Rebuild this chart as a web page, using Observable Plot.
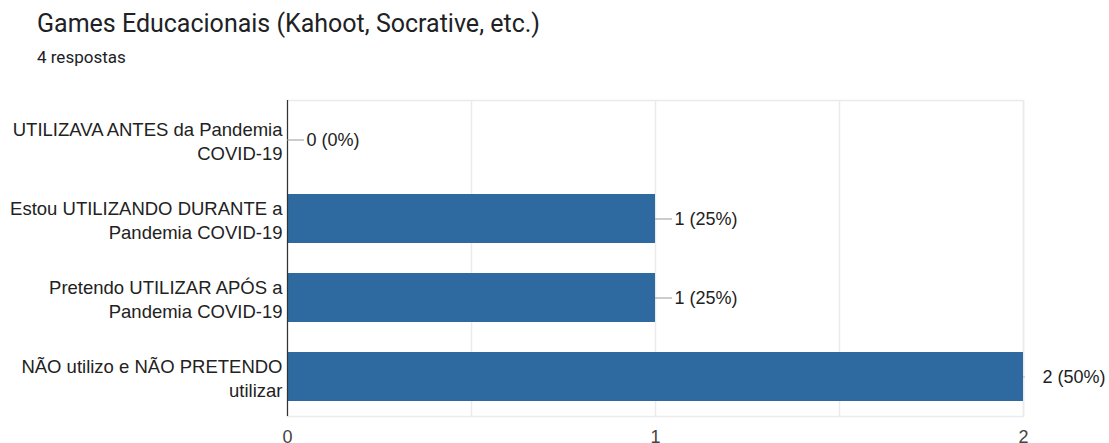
<!DOCTYPE html>
<html>
<head>
<meta charset="utf-8">
<script src="https://cdn.jsdelivr.net/npm/d3@7"></script>
<script src="https://cdn.jsdelivr.net/npm/@observablehq/plot@0.6"></script>
<style>
  html, body { margin: 0; padding: 0; background: #fff; width: 1109px; height: 443px; overflow: hidden; }
  #title { position: absolute; left: 37px; top: 10px; font-family: Roboto, sans-serif; font-size: 25px; line-height: 28px; color: #202124; white-space: nowrap; }
  #subtitle { position: absolute; left: 37px; top: 47px; font-family: Roboto, sans-serif; font-size: 17px; line-height: 20px; color: #202124; white-space: nowrap; }
  #chart { position: absolute; left: 0; top: 80px; }
</style>
</head>
<body>
<div id="title"></div>
<div id="subtitle"></div>
<div id="chart"></div>
<script>
const chartTitle = "Games Educacionais (Kahoot, Socrative, etc.)";
const totalResponses = 4;
const subtitleText = `${totalResponses} respostas`;
const categories = [
  "UTILIZAVA ANTES da Pandemia COVID-19",
  "Estou UTILIZANDO DURANTE a Pandemia COVID-19",
  "Pretendo UTILIZAR APÓS a Pandemia COVID-19",
  "NÃO utilizo e NÃO PRETENDO utilizar"
];
const tickLabels = [
  "UTILIZAVA ANTES da Pandemia\nCOVID-19",
  "Estou UTILIZANDO DURANTE a\nPandemia COVID-19",
  "Pretendo UTILIZAR APÓS a\nPandemia COVID-19",
  "NÃO utilizo e NÃO PRETENDO\nutilizar"
];
const counts = [0, 1, 1, 2];
const xTicks = [0, 1, 2];
const gridTicks = [0.5, 1, 1.5, 2];

document.getElementById("title").textContent = chartTitle;
document.getElementById("subtitle").textContent = subtitleText;

const data = categories.map((c, i) => ({
  category: c,
  count: counts[i],
  label: `${counts[i]} (${Math.round(counts[i] / totalResponses * 100)}%)`
}));
const maxCount = d3.max(counts);
const labelOf = new Map(categories.map((c, i) => [c, tickLabels[i]]));

const font = "'Liberation Sans', Arial, sans-serif";

const chart = Plot.plot({
  width: 1109,
  height: 363,
  marginTop: 20,
  marginBottom: 27,
  marginLeft: 287,
  marginRight: 86,
  style: { fontFamily: font, fontSize: "18px", background: "#fff" },
  x: { domain: [0, 2], axis: null, label: null },
  y: { domain: categories, paddingInner: 0.385, paddingOuter: 0.1925, axis: null, label: null },
  marks: [
    Plot.frame({ stroke: "#ebebeb", strokeWidth: 1.5 }),
    Plot.gridX({ ticks: gridTicks, stroke: "#ebebeb", strokeOpacity: 1, strokeWidth: 1.5 }),
    Plot.barX(data, { x: "count", y: "category", fill: "#2e69a0" }),
    Plot.ruleX([0], { stroke: "#333", strokeWidth: 1.2 }),
    Plot.ruleY(data.filter(d => d.count < maxCount), { y: "category", x1: "count", x2: "count", insetRight: -17, stroke: "#999" }),
    Plot.ruleY(data.filter(d => d.count === maxCount), { y: "category", x1: "count", x2: "count", insetRight: -2, stroke: "#bbb" }),
    Plot.text(data.filter(d => d.count < maxCount), { x: "count", y: "category", text: "label", dx: 19, textAnchor: "start", fill: "#222", fontSize: 18 }),
    Plot.text(data.filter(d => d.count === maxCount), { x: "count", y: "category", text: "label", dx: 19, textAnchor: "start", fill: "#222", fontSize: 18 }),
    Plot.axisY({ label: null, tickSize: 0, tickPadding: 5, fontSize: 18.5, fill: "#222", lineHeight: 1.33, tickFormat: c => labelOf.get(c) }),
    Plot.axisX({ label: null, ticks: xTicks, tickSize: 0, tickPadding: 14, fontSize: 18, fill: "#444", tickFormat: d3.format("d") })
  ]
});
document.getElementById("chart").appendChild(chart);
</script>
</body>
</html>
